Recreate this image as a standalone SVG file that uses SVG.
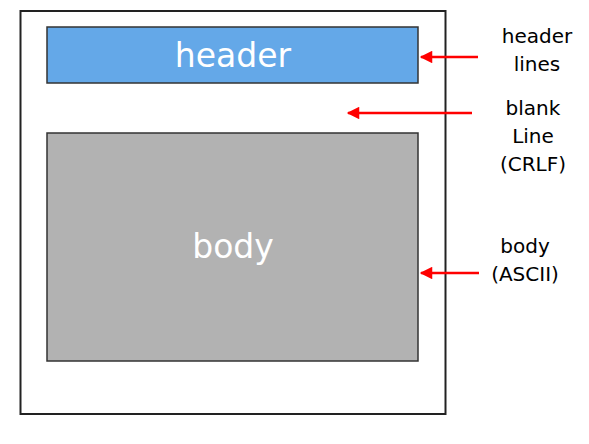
<svg xmlns="http://www.w3.org/2000/svg" width="589" height="444" viewBox="0 0 589 444">
<style>
.box{stroke:#333;stroke-width:1.5}
.in{font-family:"DejaVu Sans","Liberation Sans",sans-serif;font-size:33px;fill:#fff;text-anchor:middle}
.lbl{font-family:"DejaVu Sans","Liberation Sans",sans-serif;font-size:20px;fill:#000;text-anchor:middle}
.arr{stroke:#f00;stroke-width:2.5;fill:none;marker-end:url(#ah)}
</style>
<defs>
<marker id="ah" viewBox="0 0 10 10" refX="9" refY="5" markerWidth="5.5" markerHeight="5" orient="auto" markerUnits="strokeWidth">
<path d="M0,0 L10,5 L0,10 z" fill="#f00"/>
</marker>
</defs>
<rect width="589" height="444" fill="#fff"/>
<g id="message">
<rect x="20.5" y="11" width="425" height="403" fill="#fff" stroke="#222" stroke-width="2"/>
</g>
<g id="header">
<rect class="box" x="47" y="27" width="371" height="56" fill="#64a8e8"/>
<text class="in" x="233" y="67">header</text>
</g>
<g id="body">
<rect class="box" x="47" y="133" width="371" height="228" fill="#b2b2b2"/>
<text class="in" x="233" y="258">body</text>
</g>
<g id="label-header">
<text class="lbl" x="537" y="43">header</text>
<text class="lbl" x="537" y="71">lines</text>
</g>
<g id="label-blank">
<text class="lbl" x="533" y="115">blank</text>
<text class="lbl" x="533" y="143">Line</text>
<text class="lbl" x="533" y="171">(CRLF)</text>
</g>
<g id="label-body">
<text class="lbl" x="525" y="253">body</text>
<text class="lbl" x="525" y="281">(ASCII)</text>
</g>
<g id="connectors">
<line class="arr" x1="478" y1="57" x2="421" y2="57"/>
<line class="arr" x1="472" y1="113" x2="348" y2="113"/>
<line class="arr" x1="479" y1="273" x2="421" y2="273"/>
</g>
</svg>
